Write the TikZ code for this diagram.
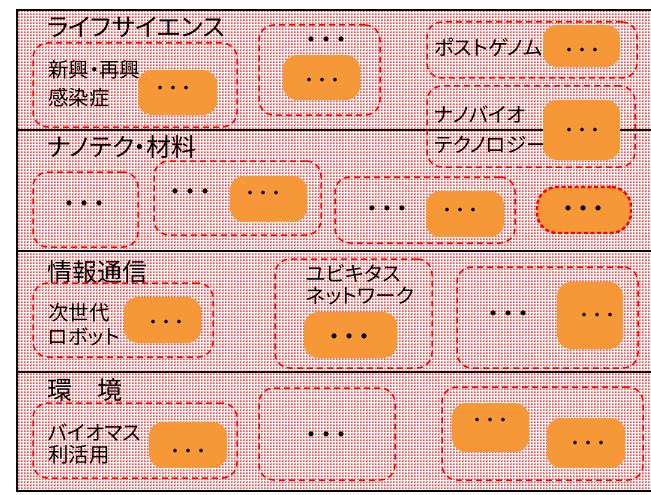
\documentclass[tikz,border=0pt]{standalone}
\usepackage{fontspec}
\usetikzlibrary{patterns.meta}
\newfontfamily\jp[RawFeature=+palt]{Noto Sans CJK JP}
\newfontfamily\jpf{Noto Sans CJK JP}
\definecolor{bg}{RGB}{255,160,160}
\definecolor{pr}{RGB}{255,70,70}
\definecolor{org}{RGB}{247,152,56}
\tikzdeclarepattern{name=rdots, type=colored,
  bounding box={(0pt,0pt) and (3pt,3pt)}, tile size={(3pt,3pt)},
  code={\fill[white] (0pt,0pt) rectangle (3pt,3pt);
        \fill[pr] (0pt,0pt) rectangle (2pt,2pt);}}
\newcommand\bx[6]{\node[#2, anchor=north west, inner sep=0pt, outer sep=0pt,
  minimum width={(#5-#3)*1pt}, minimum height={(#6-#4)*1pt}] (#1) at (#3,#4) {};}
\newcommand\sdt{・\hspace{-4pt}・\hspace{-4pt}・}
\newcommand\bdt{・\hspace{-9pt}・\hspace{-9pt}・}
\begin{document}
\begin{tikzpicture}[x=1pt,y=-1pt,
 band/.style={fill=bg, pattern=rdots, draw=black, line width=1.2pt},
 dbox/.style={draw=red, line width=1.5pt, dash pattern=on 6pt off 4pt, rounded corners=15pt},
 obox/.style={fill=org, rounded corners=14pt},
 rbox/.style={fill=org, draw=red, line width=2.4pt, dash pattern=on 4pt off 2.5pt, rounded corners=20pt},
 ttl/.style={anchor=west, font=\jp\fontsize{25}{25}\selectfont, inner sep=0pt},
 lbl/.style={anchor=west, font=\jp\fontsize{20.5}{#1}\selectfont, inner sep=0pt, align=left},
 sdots/.style={font=\jpf\fontsize{17}{17}\selectfont, inner sep=0pt},
 bdots/.style={font=\jpf\fontsize{24}{24}\selectfont, inner sep=0pt}]
\useasboundingbox (0,0) rectangle (651,495);
% bands
\bx{b1}{band}{17}{10}{680}{130}
\bx{b2}{band}{17}{130}{680}{251}
\bx{b3}{band}{17}{251}{680}{372}
\bx{b4}{band}{17}{372}{680}{491}
% ---- band 1
\node[ttl] (t1) at (47,27) {ライフサイエンス};
\bx{d11}{dbox}{33}{43}{237}{127}
\node[lbl=28pt] (l11) at (48,84) {新興・再興\\感染症};
\bx{o11}{obox}{138}{70}{217}{115}
\node[sdots] (p11) at (173,90) {\sdt};
\bx{d12}{dbox}{259}{25}{380}{115}
\node[bdots] (q12) at (326,43) {\bdt};
\bx{o12}{obox}{283}{55}{360}{100}
\node[sdots] (p12) at (322,82) {\sdt};
\bx{d13}{dbox}{427}{22}{637}{78}
\node[lbl=20pt] (l13) at (434,47) {ポストゲノム};
\bx{o13}{obox}{543}{25}{620}{67}
\node[sdots] (p13) at (582,52) {\sdt};
\bx{d14}{dbox}{427}{86}{635}{167}
\node[lbl=30pt] (l14) at (434,130) {ナノバイオ\\テクノロジー};
\bx{o14}{obox}{543}{100}{620}{160}
\node[sdots] (p14) at (582,132) {\sdt};
% ---- band 2
\node[ttl] (t2) at (47,147) {ナノテク・材料};
\bx{d21}{dbox}{33}{172}{138}{247}
\node[bdots] (q21) at (84,207) {\bdt};
\bx{d22}{dbox}{154}{161}{321}{235}
\node[bdots] (q22) at (190,195) {\bdt};
\bx{o22}{obox}{230}{176}{307}{222}
\node[sdots] (p22) at (263,195) {\sdt};
\bx{d23}{dbox}{335}{177}{515}{243}
\node[bdots] (q23) at (387,212) {\bdt};
\bx{o23}{obox}{426}{191}{504}{237}
\node[sdots] (p23) at (460,212) {\sdt};
\bx{o24}{rbox}{537}{187}{631}{233}
\node[bdots] (q24) at (583,212) {\bdt};
% ---- band 3
\node[ttl] (t3) at (47,272) {情報通信};
\bx{d31}{dbox}{33}{283}{213}{357}
\node[lbl=24pt] (l31) at (48,325) {次世代\\ロボット};
\bx{o31}{obox}{124}{297}{201}{343}
\node[sdots] (p31) at (166,324) {\sdt};
\bx{d32}{dbox}{275}{259}{432}{368}
\node[lbl=22pt] (l32) at (306,285) {ユビキタス\\ネットワーク};
\bx{o32}{obox}{304}{312}{397}{358}
\node[bdots] (q32) at (349,340) {\bdt};
\bx{d33}{dbox}{457}{267}{638}{368}
\node[bdots] (q33) at (508,317) {\bdt};
\bx{o33}{obox}{557}{282}{623}{349}
\node[sdots] (p33) at (597,317) {\sdt};
% ---- band 4
\node[ttl] (t4) at (47,390) {環　境};
\bx{d41}{dbox}{33}{403}{237}{478}
\node[lbl=22pt] (l41) at (48,444) {バイオマス\\利活用};
\bx{o41}{obox}{149}{422}{227}{468}
\node[sdots] (p41) at (188,453) {\sdt};
\bx{d42}{dbox}{259}{388}{395}{480}
\node[bdots] (q42) at (326,438) {\bdt};
\bx{d43}{dbox}{442}{387}{643}{480}
\bx{o431}{obox}{452}{403}{529}{452}
\node[sdots] (p431) at (490,422) {\sdt};
\bx{o432}{obox}{547}{418}{625}{468}
\node[sdots] (p432) at (588,445) {\sdt};
\end{tikzpicture}
\end{document}
